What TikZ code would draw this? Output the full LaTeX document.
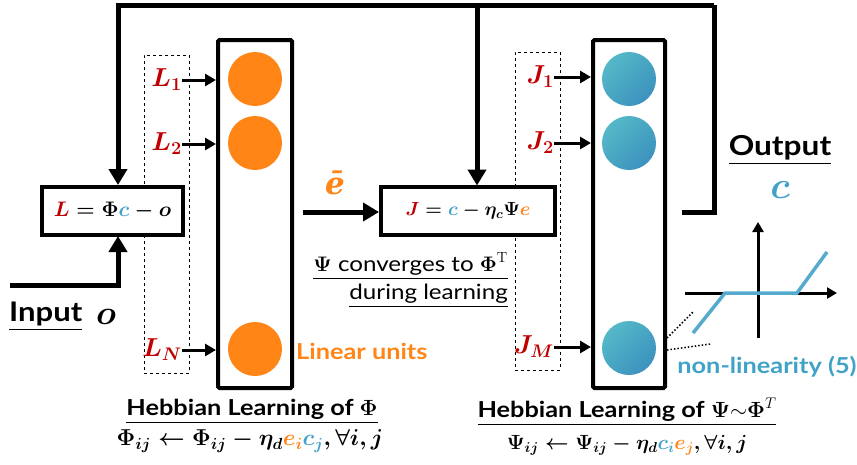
\RequirePackage{fix-cm}
\documentclass[tikz,border=0pt]{standalone}
\usepackage{fontspec}
\usepackage{amsmath,bm}
\usetikzlibrary{arrows.meta,shadings}
\newfontfamily\gill[FakeStretch=1.15]{Lato}
\newfontfamily\dvserif{DejaVu Serif}
\definecolor{myred}{HTML}{C00000}
\definecolor{myorange}{HTML}{FF8517}
\definecolor{tealA}{HTML}{55B8C8}
\definecolor{tealB}{HTML}{3C92BE}
\definecolor{tealT}{HTML}{41A2C8}
\newcommand{\rd}[1]{{\color{myred}#1}}
\newcommand{\og}[1]{{\color{myorange}#1}}
\newcommand{\tl}[1]{{\color{tealT}#1}}
\begin{document}
\begin{tikzpicture}[x=1pt,y=-1pt,
  thickline/.style={line width=5pt},
  bigarrow/.style={line width=5pt,-{Triangle[length=16pt,width=18pt]}},
  smallarrow/.style={line width=3pt,-{Triangle[length=11pt,width=12pt]}},
  column/.style={draw,line width=4pt,rounded corners=1.5pt,minimum height=348pt},
  dashbox/.style={draw,dashed,line width=0.9pt,minimum width=45pt,minimum height=318pt},
  eqbox/.style={draw,line width=4pt,fill=white,inner sep=0pt,minimum height=48pt},
  ounit/.style={circle,fill=myorange,minimum size=54pt,inner sep=0pt},
  tunit/.style={circle,minimum size=54pt,inner sep=0pt,left color=tealA,right color=tealB,shading angle=45},
  lab/.style={inner sep=0pt,anchor=east,font=\fontsize{26}{30}\selectfont\boldmath},
  sanslab/.style={inner sep=0pt,font=\gill\bfseries\fontsize{22}{26}\selectfont},
  mathtxt/.style={inner sep=0pt,font=\fontsize{23}{27}\selectfont\boldmath},
  bigmath/.style={inner sep=0pt,font=\fontsize{34}{38}\selectfont\boldmath},
]
\useasboundingbox (0,0) rectangle (857,464);

% dashed input groups
\node[dashbox] (dL) at (166.5,214) {};
\node[dashbox] (dJ) at (537.5,211) {};

% columns
\node[column,minimum width=74pt] (colL) at (255,214) {};
\node[column,minimum width=72pt] (colJ) at (629,214) {};

% units
\node[ounit] (u1) at (255,79) {};
\node[ounit] (u2) at (255,143) {};
\node[ounit] (uN) at (255,349) {};
\node[tunit] (v1) at (629,79) {};
\node[tunit] (v2) at (629,143) {};
\node[tunit] (vM) at (629,348) {};

% labels
\node[lab] (l1) at (182,80) {$\rd{L_1}$};
\node[lab] (l2) at (182,144) {$\rd{L_2}$};
\node[lab] (lN) at (182,350) {$\rd{L_N}$};
\node[lab] (j1) at (554,77) {$\rd{J_1}$};
\node[lab] (j2) at (554,143) {$\rd{J_2}$};
\node[lab] (jM) at (554,347) {$\rd{J_M}$};
\foreach \a/\b in {l1/colL,l2/colL,lN/colL,j1/colJ,j2/colJ,jM/colJ}
  \draw[smallarrow] (\a.east) -- (\a.east -| \b.west);

% equation boxes
\node[eqbox,minimum width=141pt,font=\fontsize{21}{25}\selectfont\boldmath] (Lbox) at (112.5,210.5) {$\rd{L}=\Phi\tl{c}-o$};
\node[eqbox,minimum width=174pt,font=\fontsize{19}{23}\selectfont\boldmath] (Jbox) at (468,211) {$\rd{J}=\tl{c}-\eta_c\Psi\og{e}$};

% feedback loop
\coordinate (outL) at (682,212);
\coordinate (topR) at (714,5);
\coordinate (split) at (477,5);
\draw[thickline] (outL) -| (topR);
\draw[bigarrow] (topR) -| ([xshift=5.5pt,yshift=-0.5pt]Lbox.north);
\draw[bigarrow] (split) -- ([xshift=9pt,yshift=-0.5pt]Jbox.north);

% input
\coordinate (inStart) at (10,285);
\draw[bigarrow] (inStart) -| ([xshift=5.5pt,yshift=0.5pt]Lbox.south);
\node[inner sep=0pt,anchor=west,font=\gill\bfseries\fontsize{27}{30}\selectfont] (inputlab) at (9,316) {\underline{Input}};
\node[bigmath] (olab) at (106,317) {$o$};

% e-bar arrow
\coordinate (eStart) at (303,212);
\draw[bigarrow] (eStart) -- (eStart -| Jbox.west);
\node[inner sep=0pt,text=myorange,font=\dvserif\bfseries\itshape\fontsize{31}{34}\selectfont] (ebar) at (335,183) {ē};

% converges note
\node[inner sep=0pt,font=\gill\fontsize{21}{24}\selectfont,anchor=east] (conv) at (508,266) {\underline{$\boldsymbol{\Psi}$ converges to $\boldsymbol{\Phi}^{\mathrm{T}}$}};
\node[inner sep=0pt,font=\gill\fontsize{21}{24}\selectfont,anchor=east] (during) at (508,296) {\underline{during learning}};

% linear units
\node[sanslab,text=myorange,anchor=west] (lin) at (296,351) {Linear units};

% output
\node[inner sep=0pt,font=\gill\bfseries\fontsize{27.5}{30}\selectfont] (outlab) at (780,150) {\underline{Output}};
\node[bigmath,font=\fontsize{38}{42}\selectfont\boldmath] (clab) at (780,190) {$\tl{c}$};

% nonlinearity plot
\draw[line width=3pt,-{Triangle[length=10pt,width=11pt]}] (685,293) -- (837,293);
\draw[line width=3pt,-{Triangle[length=10pt,width=11pt]}] (758,338) -- (758,222);
\draw[line width=3.5pt,tealT!90!white] (693,333) -- (725,293) -- (797,293) -- (827,252);
\coordinate (nl1) at (693,312);
\coordinate (nl2) at (710,344);
\draw[dotted,line width=1.5pt] (colJ.east |- 0,338) -- (nl1);
\draw[dotted,line width=1.5pt] (colJ.east |- 0,350) -- (nl2);
\node[sanslab,text=tealT] (nonlin) at (767,367) {non-linearity (5)};

% hebbian rules
\node[sanslab] (hebL) at (252,411) {\underline{Hebbian Learning of $\boldsymbol{\Phi}$}};
\node[mathtxt] (ruleL) at (250,441) {$\Phi_{ij}\leftarrow\Phi_{ij}-\eta_d\og{e_i}\tl{c_j},\forall i,j$};
\node[sanslab] (hebJ) at (627,412) {\underline{Hebbian Learning of $\boldsymbol{\Psi}{\sim}\boldsymbol{\Phi}^{T}$}};
\node[mathtxt,font=\fontsize{20.5}{24}\selectfont\boldmath] (ruleJ) at (627,445) {$\Psi_{ij}\leftarrow\Psi_{ij}-\eta_d\tl{c_i}\og{e_j},\forall i,j$};
\end{tikzpicture}
\end{document}
